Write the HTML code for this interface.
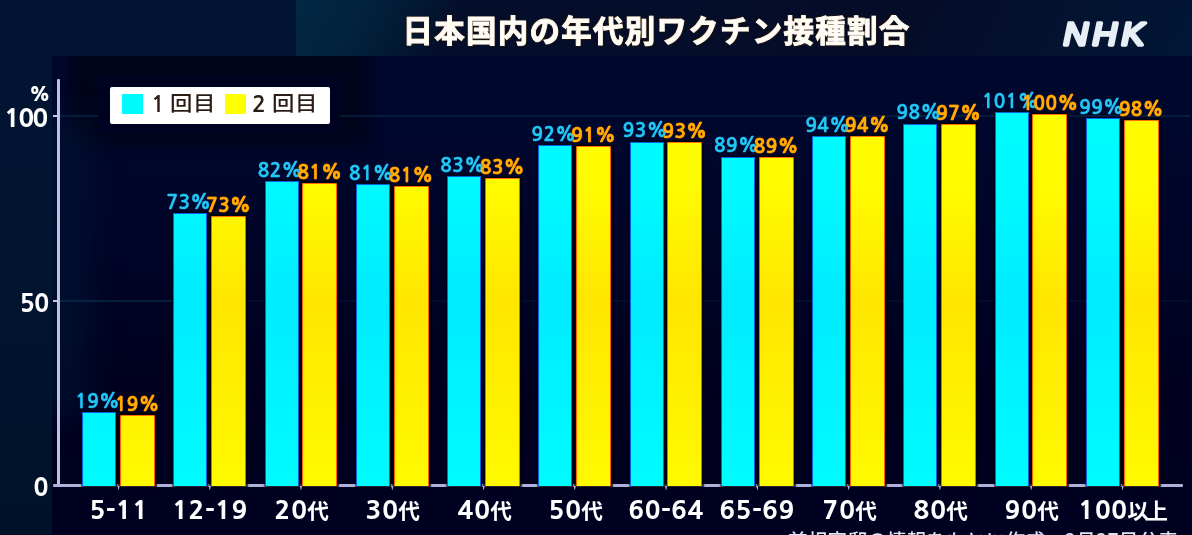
<!DOCTYPE html>
<html lang="ja"><head><meta charset="utf-8">
<style>
*{margin:0;padding:0;box-sizing:border-box}
html,body{width:1192px;height:535px;overflow:hidden;background:#011432}
body{position:relative;font-family:"Liberation Sans","Noto Sans CJK JP",sans-serif}
.abs{position:absolute}
#topband{position:absolute;left:0;top:0;width:1192px;height:56px;background:#011533}
#topright{position:absolute;left:296px;top:0;width:896px;height:56px;background:linear-gradient(118deg,#032844 0px,#03223d 60px,#021a34 105px,#040e2a 150px,#040c28 560px,#03122f 680px,#011634 800px)}
.glow{position:absolute}
#plot{position:absolute;left:52px;top:56px;width:1140px;height:479px;overflow:hidden;background:linear-gradient(180deg,#00082e 0%,#00062a 30%,#00001e 70%,#000020 100%)}
#leftcol{position:absolute;left:0;top:56px;width:52px;height:479px;background:linear-gradient(180deg,#011533 0%,#01142f 60%,#001228 100%)}
.title{position:absolute;left:402.5px;top:11px;font-family:"Noto Sans CJK JP",sans-serif;font-weight:700;font-size:30.5px;letter-spacing:1.25px;color:#fffcf6;-webkit-text-stroke:0.9px #fffcf6;white-space:nowrap;line-height:36px;
 text-shadow:0 0 2px #3a2410,1px 1px 1px #2a1808,-1px -1px 1px #2a1808}
.nhk{position:absolute;left:1050px;top:10px;width:110px;height:45px}
.yaxis{position:absolute;left:57.2px;top:78.5px;width:2.6px;height:408px;background:#bcc0e2;border-radius:1px}
.xaxis{position:absolute;left:52.5px;top:484.3px;width:1130.5px;height:2.6px;background:#aeb2da;border-radius:1px}
.ytick{position:absolute;left:53px;width:5px;height:2px;background:#c4c8e6}
.grid{position:absolute;left:60px;width:1130px;height:1.5px;background:#0c3050;opacity:.5}
.tick{position:absolute;top:486px;width:2px;height:4px;background:#b4b8dc;clip-path:polygon(0 0,100% 0,60% 100%,40% 100%)}
.ylab{position:absolute;right:1144px;font-family:"NanumGothic",sans-serif;font-weight:800;font-size:23.5px;color:#fff;line-height:25px;text-align:right;letter-spacing:-0.5px;transform:scaleX(1.05);transform-origin:100% 50%}
.bar{position:absolute;width:34px}
.bar.c{background:linear-gradient(180deg,#00ffff 0px,#00faff 180px,#00ecff 300px,#00f4ff 400px,#00fcff 485px) fixed;box-shadow:inset 1px 0 0 #0a64e0,inset -1px 0 0 #0a64e0,inset 0 1px 0 #0a64e0,0 0 1.5px 1.5px rgba(0,0,10,.8)}
.bar.y{width:35px;background:linear-gradient(180deg,#ffff00 0px,#fffc00 180px,#ffe600 300px,#fff000 400px,#fffa00 485px) fixed;box-shadow:inset 1px 0 0 #ff6000,inset -1px 0 0 #ff6000,inset 0 1px 0 #ff7000,0 0 1.5px 1.5px rgba(0,0,10,.8);border-radius:2px 2px 0 0}
.pl{position:absolute;width:80px;text-align:center;font-family:"NanumGothic",sans-serif;font-weight:700;font-size:19px;line-height:16px;height:16px;white-space:nowrap;letter-spacing:0.4px;-webkit-text-stroke:0.35px currentColor}
.pl i{font-style:normal;letter-spacing:0}
.pc{color:#22c8f0;text-shadow:0 0 1px #0a64d0}
.py{color:#ffae00;text-shadow:0 0 1px #ff6a00,0 0 1px #ff6a00}
.xl{position:absolute;top:497.5px;width:120px;text-align:center;font-family:"NanumGothic",sans-serif;font-weight:800;font-size:24.5px;line-height:25px;color:#fff;letter-spacing:0.6px;white-space:nowrap;transform:scaleX(1.06)}
.xl span{font-family:"Noto Sans CJK JP",sans-serif;font-weight:700;font-size:21.5px;letter-spacing:-2.5px;line-height:0;display:inline-block;transform:scaleX(0.95);transform-origin:0 0}
.legbg{position:absolute;left:98px;top:77px;width:242px;height:56px;background:#000222}
.legend{position:absolute;left:110px;top:87px;width:220px;height:37px;background:#fff;border-radius:2px}
.sw{position:absolute;top:7px;width:21px;height:20px}
.lt{position:absolute;top:2px;font-family:"Noto Sans CJK JP",sans-serif;font-weight:500;font-size:20px;line-height:28px;color:#2a1c14;white-space:nowrap;transform:scaleX(1.12);transform-origin:0 0}
.ld{position:absolute;top:3px;font-family:"NanumGothic",sans-serif;font-weight:700;font-size:23px;line-height:28px;color:#2a1c14}
.foot{position:absolute;left:788px;top:527.5px;font-family:"Noto Sans CJK JP",sans-serif;font-weight:500;font-size:19.5px;line-height:24px;color:#e0e4f0;white-space:nowrap;letter-spacing:0.3px}
</style></head><body>
<div id="topband"></div>
<div id="topright"></div>
<div id="leftcol"></div>
<div id="plot"><div class="glow" style="left:16px;top:-10px;width:300px;height:100px;background:#00031a;filter:blur(7px)"></div><div class="glow" style="left:-30px;top:60px;width:70px;height:300px;background:#011230;filter:blur(14px);opacity:.7"></div></div>
<div class="title">日本国内の年代別ワクチン接種割合</div>
<svg class="nhk" viewBox="0 0 110 45" width="110" height="45">
<text transform="scale(1.1,1)" x="12.3 38.7 65.1" y="35" font-family="Liberation Sans" font-weight="400" font-style="italic" font-size="31" fill="#e8eef5" stroke="#e8eef5" stroke-width="3.3" stroke-linejoin="round" stroke-linecap="round">NHK</text>
</svg>
<div class="grid" style="top:115px"></div>
<div class="grid" style="top:300px;width:115px"></div><div class="grid" style="top:300px;opacity:.25"></div>
<div class="legbg"></div>
<div class="legend">
<div class="sw" style="left:12px;background:#00fbff"></div>
<div class="ld" style="left:41px">1</div><div class="lt" style="left:60px">回</div><div class="lt" style="left:83px">目</div>
<div class="sw" style="left:115px;background:#ffff00"></div>
<div class="ld" style="left:142px">2</div><div class="lt" style="left:162px">回</div><div class="lt" style="left:185px">目</div>
</div>
<div class="ylab" style="top:81.5px;right:1142px;font-size:18.5px;letter-spacing:0">%</div>
<div class="ylab" style="top:106px;right:1145.5px;letter-spacing:-1.5px;transform:scaleX(1.1)">100</div>
<div class="ylab" style="top:291px">50</div>
<div class="ylab" style="top:474.5px">0</div>
<div class="yaxis"></div>
<div class="xaxis"></div>
<div class="bar c" style="left:82.0px;top:412.0px;height:74.0px"></div><div class="bar y" style="left:119.7px;top:415.0px;height:71.0px"></div><div class="bar c" style="left:173.3px;top:213.0px;height:273.0px"></div><div class="bar y" style="left:211.0px;top:215.7px;height:270.3px"></div><div class="bar c" style="left:264.5px;top:181.0px;height:305.0px"></div><div class="bar y" style="left:302.2px;top:183.0px;height:303.0px"></div><div class="bar c" style="left:355.8px;top:184.0px;height:302.0px"></div><div class="bar y" style="left:393.5px;top:185.6px;height:300.4px"></div><div class="bar c" style="left:447.1px;top:176.3px;height:309.7px"></div><div class="bar y" style="left:484.8px;top:177.6px;height:308.4px"></div><div class="bar c" style="left:538.3px;top:145.2px;height:340.8px"></div><div class="bar y" style="left:576.0px;top:146.0px;height:340.0px"></div><div class="bar c" style="left:629.6px;top:141.5px;height:344.5px"></div><div class="bar y" style="left:667.3px;top:141.9px;height:344.1px"></div><div class="bar c" style="left:720.9px;top:156.5px;height:329.5px"></div><div class="bar y" style="left:758.6px;top:156.6px;height:329.4px"></div><div class="bar c" style="left:812.2px;top:135.8px;height:350.2px"></div><div class="bar y" style="left:849.9px;top:136.0px;height:350.0px"></div><div class="bar c" style="left:903.4px;top:123.5px;height:362.5px"></div><div class="bar y" style="left:941.1px;top:123.9px;height:362.1px"></div><div class="bar c" style="left:994.7px;top:112.2px;height:373.8px"></div><div class="bar y" style="left:1032.4px;top:114.0px;height:372.0px"></div><div class="bar c" style="left:1086.0px;top:117.8px;height:368.2px"></div><div class="bar y" style="left:1123.7px;top:120.3px;height:365.7px"></div>
<div class="ytick" style="top:115px"></div>
<div class="ytick" style="top:300px"></div>
<div class="tick" style="left:117.5px"></div><div class="tick" style="left:208.8px"></div><div class="tick" style="left:300.0px"></div><div class="tick" style="left:391.3px"></div><div class="tick" style="left:482.6px"></div><div class="tick" style="left:573.8px"></div><div class="tick" style="left:665.1px"></div><div class="tick" style="left:756.4px"></div><div class="tick" style="left:847.7px"></div><div class="tick" style="left:938.9px"></div><div class="tick" style="left:1030.2px"></div><div class="tick" style="left:1121.5px"></div>
<div class="pl pc" style="left:57.5px;top:393.9px">19<i>%</i></div><div class="pl pc" style="left:148.8px;top:194.9px">73<i>%</i></div><div class="pl pc" style="left:240.0px;top:162.9px">82<i>%</i></div><div class="pl pc" style="left:331.3px;top:165.9px">81<i>%</i></div><div class="pl pc" style="left:422.6px;top:158.2px">83<i>%</i></div><div class="pl pc" style="left:513.8px;top:127.1px">92<i>%</i></div><div class="pl pc" style="left:605.1px;top:123.4px">93<i>%</i></div><div class="pl pc" style="left:696.4px;top:138.4px">89<i>%</i></div><div class="pl pc" style="left:787.7px;top:117.7px">94<i>%</i></div><div class="pl pc" style="left:878.9px;top:105.4px">98<i>%</i></div><div class="pl pc" style="left:970.2px;top:94.1px">101<i>%</i></div><div class="pl pc" style="left:1061.5px;top:99.7px">99<i>%</i></div>
<div class="pl py" style="left:97.2px;top:396.9px">19<i>%</i></div><div class="pl py" style="left:188.5px;top:197.6px">73<i>%</i></div><div class="pl py" style="left:279.7px;top:164.9px">81<i>%</i></div><div class="pl py" style="left:371.0px;top:167.5px">81<i>%</i></div><div class="pl py" style="left:462.3px;top:159.5px">83<i>%</i></div><div class="pl py" style="left:553.5px;top:127.9px">91<i>%</i></div><div class="pl py" style="left:644.8px;top:123.8px">93<i>%</i></div><div class="pl py" style="left:736.1px;top:138.5px">89<i>%</i></div><div class="pl py" style="left:827.4px;top:117.9px">94<i>%</i></div><div class="pl py" style="left:918.6px;top:105.8px">97<i>%</i></div><div class="pl py" style="left:1009.9px;top:95.9px">100<i>%</i></div><div class="pl py" style="left:1101.2px;top:102.2px">98<i>%</i></div>
<div class="xl" style="left:58.5px">5-11</div><div class="xl" style="left:149.8px">12-19</div><div class="xl" style="left:241.0px">20<span>代</span></div><div class="xl" style="left:332.3px">30<span>代</span></div><div class="xl" style="left:423.6px">40<span>代</span></div><div class="xl" style="left:514.8px">50<span>代</span></div><div class="xl" style="left:606.1px">60-64</div><div class="xl" style="left:697.4px">65-69</div><div class="xl" style="left:788.7px">70<span>代</span></div><div class="xl" style="left:879.9px">80<span>代</span></div><div class="xl" style="left:971.2px">90<span>代</span></div><div class="xl" style="left:1062.5px">100<span>以上</span></div>
<div class="foot">首相官邸の情報をもとに作成　2月27日公表</div>
</body></html>
